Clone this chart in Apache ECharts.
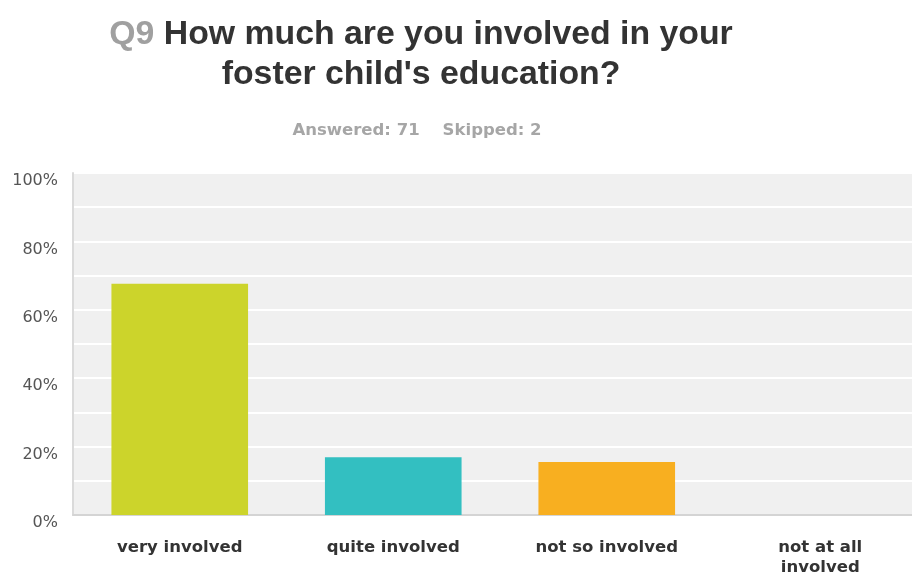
<!DOCTYPE html>
<html>
<head>
<meta charset="utf-8">
<script src="https://cdn.jsdelivr.net/npm/echarts@6/dist/echarts.min.js"></script>
<style>
html,body{margin:0;padding:0;background:#fff;}
#c{width:912px;height:575px;}
</style>
</head>
<body>
<div id="c"></div>
<script>
const categories = ['very involved', 'quite involved', 'not so involved', 'not at all involved'];
const values = [67.61, 16.90, 15.49, 0];
const barColors = ['#ccd42b', '#33bfc1', '#f8af20'];
const yTicks = [0, 20, 40, 60, 80, 100];

const chart = echarts.init(document.getElementById('c'));
chart.setOption({
  animation: false,
  title: [{
    text: '{q|Q9} How much are you involved in your\nfoster child\'s education?',
    left: 416, top: 10, textAlign: 'center',
    textStyle: {
      fontFamily: 'Liberation Sans, Arial', fontSize: 33.8, fontWeight: 'bold', color: '#333333', lineHeight: 40,
      rich: { q: { color: '#a0a0a0', fontFamily: 'Liberation Sans, Arial', fontSize: 33.8, fontWeight: 'bold', lineHeight: 40 } }
    }
  }, {
    text: 'Answered: 71    Skipped: 2',
    left: 412, top: 117, textAlign: 'center',
    textStyle: { fontFamily: 'DejaVu Sans', fontSize: 16.5, fontWeight: 'bold', color: '#a6a6a6' }
  }],
  grid: {
    left: 73, top: 173, bottom: 60, right: -15,
    outerBoundsMode: 'none', containLabel: false,
    show: true, backgroundColor: '#f0f0f0', borderWidth: 0
  },
  xAxis: {
    type: 'category', data: categories,
    axisLine: { show: true, lineStyle: { color: '#d4d4d4', width: 2 } },
    axisTick: { show: false },
    axisLabel: {
      margin: 23, fontFamily: 'DejaVu Sans', fontSize: 16.5, fontWeight: 'bold', color: '#333333', lineHeight: 20,
      formatter: v => v === 'not at all involved' ? 'not at all\ninvolved' : v
    }
  },
  yAxis: {
    type: 'value', min: 0, max: 100, interval: 10,
    axisLine: { show: true, lineStyle: { color: '#dadada', width: 2 } },
    axisTick: { show: false },
    splitLine: { lineStyle: { color: '#ffffff', width: 2 } },
    axisLabel: {
      margin: 15, fontFamily: 'DejaVu Sans', fontSize: 16, color: '#555555', verticalAlign: 'top',
      formatter: v => yTicks.includes(v) ? v + '%' : ''
    }
  },
  series: [{
    type: 'bar', barWidth: '64%',
    data: values.map((v, i) => ({ value: v, itemStyle: { color: barColors[i % barColors.length] } }))
  }]
});
</script>
</body>
</html>
